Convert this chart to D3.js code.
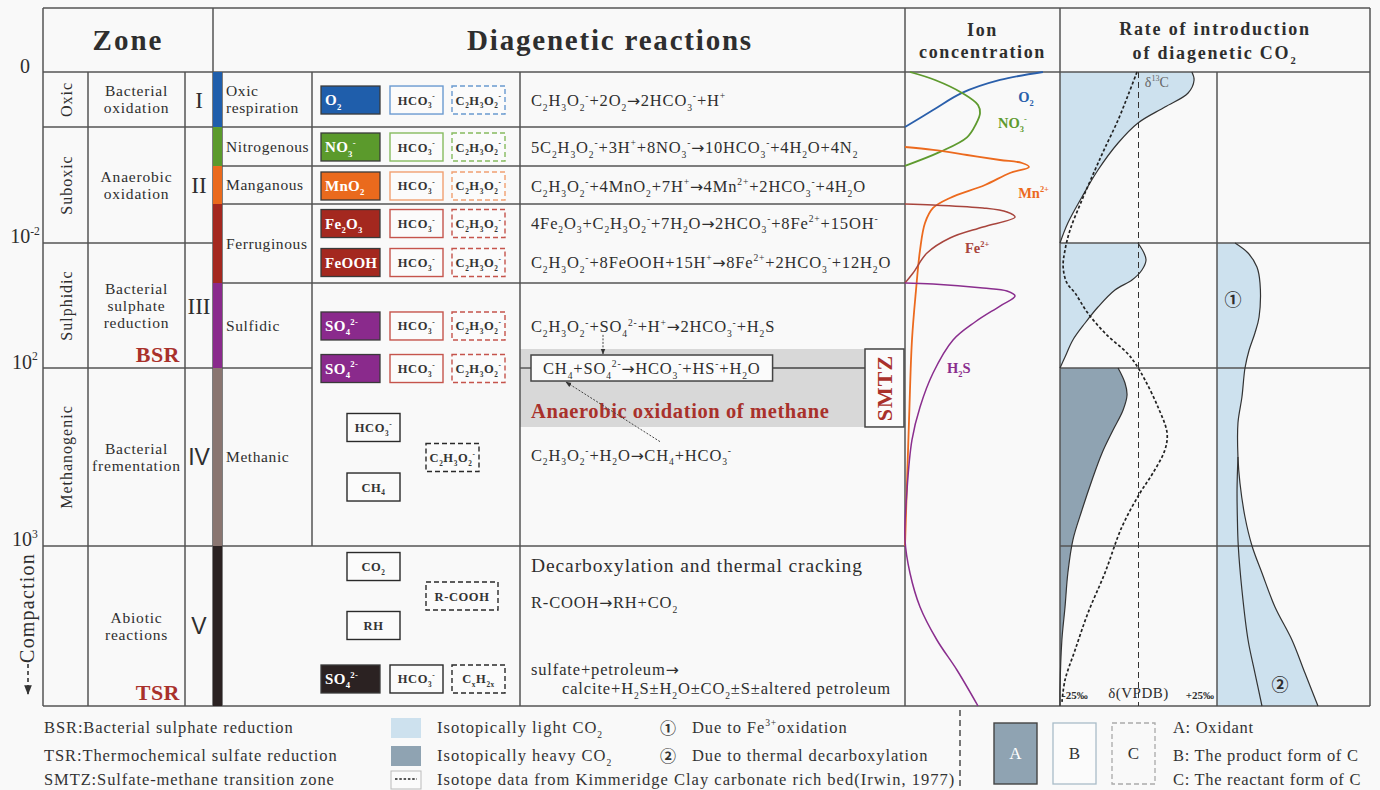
<!DOCTYPE html>
<html>
<head>
<meta charset="utf-8">
<script src="https://cdn.jsdelivr.net/npm/d3@7"></script>
<style>
  html, body { margin: 0; padding: 0; background: #f9f9f9; }
  svg { display: block; font-family: "Liberation Serif", "Times New Roman", serif; }
</style>
</head>
<body>
<svg id="chart" width="1380" height="790"></svg>
<script>
// ---------------------------------------------------------------
// Depth axis (relative burial depth, 0 = sediment surface, 100 = base)
// ---------------------------------------------------------------
const depthTicks = [0, 26.97, 46.69, 74.76];
const depthLabels = ["0", "10^{-2}", "10^2", "10^3"];

// Zones, processes and stages share the same depth boundaries
const zoneBounds = [0, 8.68, 26.97, 46.69, 74.76, 100];
const zoneNames = ["Oxic", "Suboxic", "Sulphidic", "Methanogenic", ""];
const processNames = [["Bacterial", "oxidation"], ["Anaerobic", "oxidation"],
  ["Bacterial", "sulphate", "reduction"], ["Bacterial", "frementation"], ["Abiotic", "reactions"]];
const stageNames = ["I", "II", "III", "IV", "V"];
const processTags = [{ label: "BSR", stage: 2 }, { label: "TSR", stage: 4 }];

// Redox sub-zones of the diagenetic reactions
const redoxBounds = [0, 8.68, 14.83, 20.82, 33.28, 46.69, 74.76, 100];
const redoxNames = [["Oxic", "respiration"], ["Nitrogenous"], ["Manganous"], ["Ferruginous"], ["Sulfidic"], ["Methanic"], []];

// Oxidant (A), product (B) and reactant (C) species per reaction
const species = [
  { label: "O_2", kind: "A", slot: "a", depth: 4.42, zone: 0 },
  { label: "HCO_3^-", kind: "B", slot: "b", depth: 4.42, zone: 0 },
  { label: "C_2H_3O_2^-", kind: "C", slot: "c", depth: 4.42, zone: 0 },
  { label: "NO_3^-", kind: "A", slot: "a", depth: 11.83, zone: 1 },
  { label: "HCO_3^-", kind: "B", slot: "b", depth: 11.83, zone: 1 },
  { label: "C_2H_3O_2^-", kind: "C", slot: "c", depth: 11.83, zone: 1 },
  { label: "MnO_2", kind: "A", slot: "a", depth: 17.98, zone: 2 },
  { label: "HCO_3^-", kind: "B", slot: "b", depth: 17.98, zone: 2 },
  { label: "C_2H_3O_2^-", kind: "C", slot: "c", depth: 17.98, zone: 2 },
  { label: "Fe_2O_3", kind: "A", slot: "a", depth: 23.9, zone: 3 },
  { label: "HCO_3^-", kind: "B", slot: "b", depth: 23.9, zone: 3 },
  { label: "C_2H_3O_2^-", kind: "C", slot: "c", depth: 23.9, zone: 3 },
  { label: "FeOOH", kind: "A", slot: "a", depth: 30.05, zone: 3 },
  { label: "HCO_3^-", kind: "B", slot: "b", depth: 30.05, zone: 3 },
  { label: "C_2H_3O_2^-", kind: "C", slot: "c", depth: 30.05, zone: 3 },
  { label: "SO_4^{2-}", kind: "A", slot: "a", depth: 40.06, zone: 4 },
  { label: "HCO_3^-", kind: "B", slot: "b", depth: 40.06, zone: 4 },
  { label: "C_2H_3O_2^-", kind: "C", slot: "c", depth: 40.06, zone: 4 },
  { label: "SO_4^{2-}", kind: "A", slot: "a", depth: 46.77, zone: 4 },
  { label: "HCO_3^-", kind: "B", slot: "b", depth: 46.77, zone: 4 },
  { label: "C_2H_3O_2^-", kind: "C", slot: "c", depth: 46.77, zone: 4 },
  { label: "HCO_3^-", kind: "B", slot: "m1", depth: 56.07, zone: 5 },
  { label: "C_2H_3O_2^-", kind: "C", slot: "m2", depth: 60.8, zone: 5 },
  { label: "CH_4", kind: "B", slot: "m1", depth: 65.46, zone: 5 },
  { label: "CO_2", kind: "B", slot: "m1", depth: 78.0, zone: 6 },
  { label: "R-COOH", kind: "C", slot: "m2", depth: 82.65, zone: 6 },
  { label: "RH", kind: "B", slot: "m1", depth: 87.3, zone: 6 },
  { label: "SO_4^{2-}", kind: "A", slot: "a", depth: 95.74, zone: 6 },
  { label: "HCO_3^-", kind: "B", slot: "b", depth: 95.74, zone: 6 },
  { label: "C_xH_{2x}", kind: "C", slot: "c", depth: 95.74, zone: 6 }
];

// Reaction equations
const equations = [
  { text: "C_2H_3O_2^-+2O_2→2HCO_3^-+H^+", depth: 4.42 },
  { text: "5C_2H_3O_2^-+3H^++8NO_3^-→10HCO_3^-+4H_2O+4N_2", depth: 11.83 },
  { text: "C_2H_3O_2^-+4MnO_2+7H^+→4Mn^{2+}+2HCO_3^-+4H_2O", depth: 17.98 },
  { text: "4Fe_2O_3+C_2H_3O_2^-+7H_2O→2HCO_3^-+8Fe^{2+}+15OH^-", depth: 23.8 },
  { text: "C_2H_3O_2^-+8FeOOH+15H^+→8Fe^{2+}+2HCO_3^-+12H_2O", depth: 29.97 },
  { text: "C_2H_3O_2^-+SO_4^{2-}+H^+→2HCO_3^-+H_2S", depth: 40.2 },
  { text: "C_2H_3O_2^-+H_2O→CH_4+HCO_3^-", depth: 60.4 },
  { text: "R-COOH→RH+CO_2", depth: 83.6 },
  { text: "sulfate+petroleum→", depth: 94.3 },
  { text: "calcite+H_2S±H_2O±CO_2±S±altered petroleum", depth: 97.2, cont: true }
];
const smtzReaction = { text: "CH_4+SO_4^{2-}→HCO_3^-+HS^-+H_2O", depth: 46.69 };
const smtzBand = [43.69, 55.99];
const aomLabel = { text: "Anaerobic oxidation of methane", depth: 53.4 };
const thermalTitle = { text: "Decarboxylation and thermal cracking", depth: 77.7 };

// Ion concentration profiles: [relative concentration, depth]
const o2Profile = [[0, 8.68], [18.1, 6.0], [36.8, 3.3], [61.3, 1.26], [89, 0]];
const no3Profile = [[3.2, 0], [19.4, 1.26], [36.8, 3.3], [47.1, 5.2], [48.4, 6.5], [45.8, 8.2],
  [40.0, 10.3], [22.6, 12.6], [0, 14.8]];
const mnProfile = [[0, 11.83], [18.1, 12.3], [40, 13.09], [61.3, 13.88], [75.5, 14.35], [80, 14.98],
  [67.7, 15.93], [51.6, 17.82], [29, 19.87], [18.1, 21.45], [12.9, 23.82], [9.7, 28.08],
  [7.1, 34.4], [4.5, 42.27], [2.6, 54.9], [0, 74.76]];
const feProfile = [[0, 20.82], [18.1, 20.98], [50.3, 21.45], [65.8, 22.08], [71, 22.87], [50.3, 24.45],
  [29, 26.18], [14.2, 28.55], [5.2, 31.7], [0, 33.28]];
const h2sProfile = [[0, 33.28], [18.1, 33.44], [50.3, 34.07], [65.8, 34.54], [71, 35.33], [61.3, 36.91],
  [45.2, 39.43], [31, 42.27], [18.1, 47.48], [9.7, 52.84], [4.5, 58.04], [1.3, 65.93], [0, 73.82],
  [3.2, 79.02], [9.7, 84.38], [20.6, 89.59], [33.5, 94.32], [47.1, 100]];
const ionLabels = [
  { text: "O_2", conc: 73, depth: 3.94 },
  { text: "NO_3^-", conc: 60, depth: 8.04 },
  { text: "Mn^{2+}", conc: 73, depth: 19.1 },
  { text: "Fe^{2+}", conc: 38.7, depth: 27.8 },
  { text: "H_2S", conc: 27.1, depth: 46.7 }
];

// δ13C of diagenetic CO2 (‰ VPDB): [δ13C, depth]
const lightUpper = [[17.0, 0], [17.7, 1.26], [15.8, 3.31], [8.4, 5.52], [-0.16, 8.04], [-6.5, 11.2],
  [-12.9, 15.46], [-18.0, 19.72], [-22.5, 23.82], [-25, 26.97]];
const lightMiddle = [[-0.16, 26.97], [1.75, 28.55], [2.4, 29.65], [1.1, 31.23], [-2.07, 32.81],
  [-7.5, 34.38], [-12.9, 37.07], [-17.0, 39.59], [-20.9, 42.27], [-23.4, 44.95], [-25, 46.69]];
const heavyLower = [[-6.5, 46.69], [-4.3, 49.05], [-3.65, 50.95], [-4.9, 53.31], [-8.1, 56.47],
  [-11.6, 60.09], [-14.8, 64.35], [-18.0, 69.09], [-20.9, 73.82], [-22.5, 79.02], [-23.4, 84.38],
  [-24.4, 89.59], [-25, 97.4], [-25, 100]];
const kimmeridge = [[-0.48, 0], [-3.3, 3.63], [-6.5, 7.57], [-10.7, 11.99], [-13.85, 15.46],
  [-18.0, 20.19], [-21.8, 24.92], [-23.4, 28.08], [-24.0, 30.76], [-22.8, 33.28], [-20.2, 34.86],
  [-16.4, 37.85], [-10.7, 41.17], [-3.65, 44.32], [-1.1, 45.9], [2.07, 48.58], [6.2, 52.84],
  [9.1, 56.94], [8.4, 59.62], [4.6, 63.25], [0.48, 66.4], [-5.3, 71.77], [-10.7, 79.02],
  [-16.1, 85.33], [-20.2, 91.17], [-23.4, 95.9], [-24.4, 99.5]];

// Rate of CO2 introduction from Fe3+ oxidation / thermal decarboxylation: [rate, depth]
const rateOuter = [[11.8, 26.97], [20.3, 28.55], [26.1, 30.76], [28.1, 33.28], [27.5, 38.64],
  [24.8, 41.17], [21, 43.85], [18.3, 46.69], [16.3, 51.26], [13.7, 55.36], [13.7, 60.73],
  [15.0, 64.83], [18.3, 70.19], [22.9, 74.76], [29.4, 79.02], [37.9, 84.38], [49.0, 89.59],
  [57.5, 94.8], [66, 100]];
const rateInner = [[13.7, 60.73], [13.1, 65.9], [13.3, 70.2], [13.9, 74.76], [16.3, 81.7],
  [20.3, 89.59], [24.8, 94.8], [29.4, 100]];
const rateMarks = [{ text: "①", rate: 10.5, depth: 36 }, { text: "②", rate: 41.2, depth: 96.7 }];

// Legend entries
const abbreviations = ["BSR:Bacterial sulphate reduction", "TSR:Thermochemical sulfate reduction",
  "SMTZ:Sulfate-methane transition zone"];
const fillLegend = [
  { label: "Isotopically light CO_2", type: "light" },
  { label: "Isotopically heavy CO_2", type: "heavy" },
  { label: "Isotope data from Kimmeridge Clay carbonate rich bed(Irwin, 1977)", type: "dash" }
];
const noteLegend = [{ mark: "①", label: "Due to Fe^{3+}oxidation" }, { mark: "②", label: "Due to thermal decarboxylation" }];
const boxLegend = [{ key: "A", label: "A: Oxidant" }, { key: "B", label: "B: The product form of  C" },
  { key: "C", label: "C: The reactant form of  C" }];

// ---------------------------------------------------------------
// Layout & styles
// ---------------------------------------------------------------
const X = { left: 43, zone: 88, proc: 185, roman: 213, bar: 222, name: 312, box: 520,
  ion: 905, rate: 1060, rateMid: 1217, right: 1370 };
const Y = { top: 8, head: 72, bottom: 706 };
const ink = "#2e2e2e";
const gridC = "#555";
const tagRed = "#a9312b";
const redoxColors = ["#1f5eab", "#5b9a2c", "#ea6a1d", "#a4281f", "#8a2a8c", "#8a7671", "#2b2222"];
const speciesStroke = ["#6a9ad0", "#86bb5f", "#f1a071", "#c5544c", "#c5544c", "#2a2a2a", "#2a2a2a"];
const ionColors = ["#2a5fab", "#5e9a2e", "#ec6a1e", "#a8453d", "#8a2e8e"];
const lightFill = "#cde1ee";
const heavyFill = "#8fa3b2";
const slotLeft = { a: 321, b: 390, c: 452, m1: 347, m2: 426 };

const y = d3.scaleLinear().domain([0, 100]).range([Y.head, Y.bottom]);
const xIon = d3.scaleLinear().domain([0, 100]).range([X.ion, X.rate]);
const xIso = d3.scaleLinear().domain([-25, 25]).range([X.rate, X.rateMid]);
const xRate = d3.scaleLinear().domain([0, 100]).range([X.rateMid, X.right]);

const svg = d3.select("#chart");
svg.append("rect").attr("width", 1380).attr("height", 790).attr("fill", "#f9f9f9");

const defs = svg.append("defs");
defs.append("marker").attr("id", "arrow").attr("viewBox", "0 0 10 10").attr("refX", 9).attr("refY", 5)
  .attr("markerWidth", 6).attr("markerHeight", 6).attr("orient", "auto-start-reverse")
  .append("path").attr("d", "M0,1 L10,5 L0,9 z").attr("fill", "#333");

// Rich text: "_x" / "_{..}" subscript, "^x" / "^{..}" superscript
function parseRich(str) {
  const parts = [];
  let i = 0;
  while (i < str.length) {
    const c = str[i];
    if (c === "_" || c === "^") {
      i++;
      let t;
      if (str[i] === "{") { const j = str.indexOf("}", i); t = str.slice(i + 1, j); i = j + 1; }
      else { t = str[i]; i++; }
      parts.push({ t, m: c === "_" ? 1 : 2 });
    } else {
      let j = i;
      while (j < str.length && str[j] !== "_" && str[j] !== "^") j++;
      parts.push({ t: str.slice(i, j), m: 0 });
      i = j;
    }
  }
  return parts;
}
function rich(textSel, str, fs) {
  textSel.text(null);
  let cur = 0;
  parseRich(str).forEach(p => {
    const off = p.m === 1 ? fs * 0.3 : p.m === 2 ? -fs * 0.42 : 0;
    if (p.m === 0 && p.t.includes("→")) {
      // reaction arrows are drawn with a font whose arrow is full width
      p.t.split(/(→)/).filter(s => s.length).forEach((seg, k) => {
        const ts = textSel.append("tspan").text(seg);
        if (k === 0) ts.attr("dy", off - cur);
        if (seg === "→") ts.attr("font-family", "'DejaVu Sans', sans-serif").attr("font-size", fs * 0.95).attr("letter-spacing", 0.5);
      });
    } else {
      const ts = textSel.append("tspan").attr("dy", off - cur).text(p.t);
      if (p.m) ts.attr("font-size", fs * 0.58);
    }
    cur = off;
  });
  return textSel;
}
function mainLength(str) {
  return parseRich(str).filter(p => p.m === 0).reduce((s, p) => s + p.t.length, 0);
}
// Multi-line text centred on (cx, cy)
function multiline(g, arr, cx, cy, fs, lh, attrs) {
  const t = g.append("text").attr("text-anchor", attrs.anchor || "middle")
    .attr("font-size", fs).attr("fill", attrs.fill || ink)
    .attr("letter-spacing", attrs.ls || 0).attr("font-weight", attrs.weight || "normal");
  if (attrs.family) t.attr("font-family", attrs.family);
  arr.forEach((line, i) => {
    t.append("tspan").attr("x", cx).attr("y", cy - (arr.length - 1) * lh / 2 + i * lh + fs * 0.34).text(line);
  });
  return t;
}

const gFill = svg.append("g");
const gGrid = svg.append("g").attr("stroke", gridC).attr("stroke-width", 1.5).attr("fill", "none");
const gText = svg.append("g");
const gMarks = svg.append("g");

// ---------------- SMTZ band ----------------
gFill.append("rect").attr("x", X.box).attr("width", X.ion - X.box)
  .attr("y", y(smtzBand[0])).attr("height", y(smtzBand[1]) - y(smtzBand[0])).attr("fill", "#d8d8d8");

// ---------------- δ13C and rate fills ----------------
const isoArea = d3.area().curve(d3.curveCatmullRom.alpha(0.5))
  .y(d => y(d[1])).x0(xIso(-25)).x1(d => xIso(d[0]));
const isoLine = d3.line().curve(d3.curveCatmullRom.alpha(0.5)).x(d => xIso(d[0])).y(d => y(d[1]));
[[lightUpper, lightFill], [lightMiddle, lightFill], [heavyLower, heavyFill]].forEach(([pts, col]) => {
  gFill.append("path").attr("d", isoArea(pts)).attr("fill", col);
  gMarks.append("path").attr("d", isoLine(pts)).attr("fill", "none").attr("stroke", "#333").attr("stroke-width", 1.2);
});
const rateArea = d3.area().curve(d3.curveCatmullRom.alpha(0.5))
  .y(d => y(d[1])).x0(xRate(0)).x1(d => xRate(d[0]));
const rateLine = d3.line().curve(d3.curveCatmullRom.alpha(0.5)).x(d => xRate(d[0])).y(d => y(d[1]));
gFill.append("path").attr("d", rateArea(rateOuter)).attr("fill", lightFill);
gMarks.append("path").attr("d", rateLine(rateOuter)).attr("fill", "none").attr("stroke", "#333").attr("stroke-width", 1.2);
gMarks.append("path").attr("d", rateLine(rateInner)).attr("fill", "none").attr("stroke", "#333").attr("stroke-width", 1.2);

// δ = 0 reference line and Kimmeridge isotope curve
gMarks.append("line").attr("x1", xIso(0)).attr("x2", xIso(0)).attr("y1", y(0)).attr("y2", y(100))
  .attr("stroke", "#333").attr("stroke-width", 1).attr("stroke-dasharray", "6,4");
gMarks.append("path").attr("d", isoLine(kimmeridge)).attr("fill", "none").attr("stroke", "#222")
  .attr("stroke-width", 1.7).attr("stroke-dasharray", "3,2.2");

// ---------------- colour bar ----------------
svg.append("g").selectAll("rect").data(redoxColors).join("rect")
  .attr("x", X.roman).attr("width", X.bar - X.roman)
  .attr("y", (d, i) => y(redoxBounds[i]))
  .attr("height", (d, i) => y(redoxBounds[i + 1]) - y(redoxBounds[i]))
  .attr("fill", d => d);

// ---------------- grid ----------------
function hLine(py, x0, x1) { gGrid.append("line").attr("x1", x0).attr("x2", x1).attr("y1", py).attr("y2", py); }
function vLine(px, y0, y1) { gGrid.append("line").attr("x1", px).attr("x2", px).attr("y1", y0).attr("y2", y1); }
hLine(Y.top, X.left, X.right);
hLine(Y.head, X.left, X.right);
hLine(Y.bottom, X.left, X.right);
zoneBounds.slice(1, -1).forEach(d => hLine(y(d), X.left, X.roman));
redoxBounds.slice(1, -1).forEach(d => hLine(y(d), X.bar, X.name));
redoxBounds.slice(1, -1).filter(d => d !== 46.69).forEach(d => hLine(y(d), X.name, X.ion));
zoneBounds.slice(2, -1).forEach(d => hLine(y(d), X.rate, X.right));
[X.left, X.roman, X.ion, X.rate, X.right].forEach(px => vLine(px, Y.top, Y.bottom));
[X.zone, X.proc, X.bar, X.box, X.rateMid].forEach(px => vLine(px, Y.head, Y.bottom));
vLine(X.name, Y.head, y(74.76));

// ---------------- headers ----------------
gText.append("text").attr("x", (X.left + X.roman) / 2).attr("y", 50).attr("text-anchor", "middle")
  .attr("font-size", 29).attr("font-weight", "bold").attr("letter-spacing", 2).attr("fill", ink).text("Zone");
gText.append("text").attr("x", 610).attr("y", 50).attr("text-anchor", "middle")
  .attr("font-size", 29).attr("font-weight", "bold").attr("letter-spacing", 1.8).attr("fill", ink).text("Diagenetic reactions");
multiline(gText, ["Ion", "concentration"], (X.ion + X.rate) / 2, 41, 18, 22, { weight: "bold", ls: 1.6 });
const rh = gText.append("text").attr("text-anchor", "middle").attr("font-size", 18).attr("font-weight", "bold")
  .attr("letter-spacing", 1.8).attr("fill", ink);
rh.append("tspan").attr("x", (X.rate + X.right) / 2).attr("y", 35).text("Rate of introduction");
const rh2 = gText.append("text").attr("text-anchor", "middle").attr("font-size", 18).attr("font-weight", "bold")
  .attr("letter-spacing", 1.8).attr("fill", ink).attr("x", (X.rate + X.right) / 2).attr("y", 59);
rich(rh2, "of diagenetic CO_2", 18);

// ---------------- depth axis ----------------
const axis = d3.axisLeft(y).tickValues(depthTicks).tickSize(0).tickPadding(0).tickFormat((d, i) => depthLabels[i]);
const gAxis = svg.append("g").attr("transform", "translate(25,0)").call(axis);
gAxis.select(".domain").remove();
gAxis.attr("font-family", null).attr("font-size", null).attr("text-anchor", "middle");
gAxis.selectAll(".tick text").each(function (d, i) {
  const t = d3.select(this).attr("fill", ink).attr("font-size", 20).attr("dy", "0.3em");
  rich(t, depthLabels[i], 20);
});

// Compaction arrow
gText.append("text").attr("transform", "translate(34,608) rotate(-90)").attr("text-anchor", "middle")
  .attr("font-size", 20).attr("letter-spacing", 1.2).attr("fill", ink).text("Compaction");
gMarks.append("line").attr("x1", 28).attr("x2", 28).attr("y1", 664).attr("y2", 694)
  .attr("stroke", "#333").attr("stroke-width", 1.6).attr("stroke-dasharray", "4,3").attr("marker-end", "url(#arrow)");

// ---------------- zone columns ----------------
zoneNames.forEach((name, i) => {
  const cy = (y(zoneBounds[i]) + y(zoneBounds[i + 1])) / 2;
  if (name) {
    gText.append("text").attr("transform", `translate(${(X.left + X.zone) / 2 + 1},${cy}) rotate(-90)`)
      .attr("text-anchor", "middle").attr("dy", "0.34em").attr("font-size", 16).attr("letter-spacing", 1)
      .attr("fill", ink).text(name);
  }
  multiline(gText, processNames[i], (X.zone + X.proc) / 2, cy, 15.5, 17, { ls: 0.8 });
  gText.append("text").attr("x", (X.proc + X.roman) / 2).attr("y", cy + 8).attr("text-anchor", "middle")
    .attr("font-size", 23).attr("fill", ink)
    .attr("font-family", i >= 3 ? "'Liberation Sans', Arial, sans-serif" : null)
    .text(stageNames[i]);
});
processTags.forEach(tag => {
  gText.append("text").attr("x", X.proc - 5).attr("y", y(zoneBounds[tag.stage + 1]) - 6)
    .attr("text-anchor", "end").attr("font-size", 22).attr("font-weight", "bold")
    .attr("fill", tagRed).attr("letter-spacing", 0.5).text(tag.label);
});

// ---------------- redox zone names ----------------
redoxNames.forEach((arr, i) => {
  const cy = (y(redoxBounds[i]) + y(redoxBounds[i + 1])) / 2;
  multiline(gText, arr, X.bar + 4, cy, 15.5, 17, { anchor: "start", ls: 0.6 });
});

// ---------------- species boxes ----------------
species.forEach(s => {
  const h = 28;
  const top = y(s.depth) - h / 2;
  const left = slotLeft[s.slot];
  const w = s.kind === "A" ? 59 : Math.max(53, mainLength(s.label) * 12);
  const g = gMarks.append("g");
  if (s.kind === "A") {
    g.append("rect").attr("x", left).attr("y", top).attr("width", w).attr("height", h)
      .attr("fill", redoxColors[s.zone]).attr("stroke", "#3a3a3a").attr("stroke-width", 1.3);
    const t = g.append("text").attr("x", left + 4).attr("y", top + h / 2 + 5).attr("font-size", 15)
      .attr("font-weight", "bold").attr("fill", "#fff").attr("letter-spacing", 0.3);
    rich(t, s.label, 15);
  } else {
    g.append("rect").attr("x", left).attr("y", top).attr("width", w).attr("height", h)
      .attr("fill", "#fbfbfb").attr("stroke", speciesStroke[s.zone]).attr("stroke-width", 1.4)
      .attr("stroke-dasharray", s.kind === "C" ? "5,3" : null);
    const t = g.append("text").attr("x", left + w / 2).attr("y", top + h / 2 + 4.5).attr("text-anchor", "middle")
      .attr("font-size", 12.5).attr("font-weight", "bold").attr("fill", "#333").attr("letter-spacing", 0.6);
    rich(t, s.label, 12.5);
  }
});

// ---------------- equations ----------------
const eqX = X.box + 11;
const eqFs = 16.5;
const eqLs = 0.85;
equations.forEach(e => {
  const t = gText.append("text").attr("x", e.cont ? eqX + 31 : eqX).attr("y", y(e.depth) + eqFs * 0.34)
    .attr("font-size", eqFs).attr("fill", ink).attr("letter-spacing", eqLs);
  rich(t, e.text, eqFs);
});
gText.append("text").attr("x", eqX).attr("y", y(thermalTitle.depth) + 7).attr("font-size", 19.5)
  .attr("letter-spacing", 0.9).attr("fill", ink).text(thermalTitle.text);

// SMTZ reaction box
const smY = y(smtzReaction.depth);
const smText = gText.append("text").attr("x", eqX + 12).attr("y", smY + eqFs * 0.34)
  .attr("font-size", eqFs).attr("fill", ink).attr("letter-spacing", eqLs);
rich(smText, smtzReaction.text, eqFs);
const smW = smText.node().getComputedTextLength() + 24;
const tagW = 39;
gFill.append("rect").attr("x", eqX).attr("y", smY - 13).attr("width", smW).attr("height", 26)
  .attr("fill", "#fbfbfb").attr("stroke", "#444").attr("stroke-width", 1.5);
gFill.append("line").attr("x1", X.box).attr("x2", eqX).attr("y1", smY).attr("y2", smY).attr("stroke", "#444").attr("stroke-width", 1.3);
gFill.append("line").attr("x1", eqX + smW).attr("x2", X.ion - tagW - 1).attr("y1", smY).attr("y2", smY).attr("stroke", "#444").attr("stroke-width", 1.3);
gFill.append("rect").attr("x", X.ion - tagW - 1).attr("y", y(smtzBand[0])).attr("width", tagW)
  .attr("height", y(smtzBand[1]) - y(smtzBand[0])).attr("fill", "#fbfbfb").attr("stroke", "#444").attr("stroke-width", 1.5);
gText.append("text").attr("transform", `translate(${X.ion - tagW / 2 - 1},${(y(smtzBand[0]) + y(smtzBand[1])) / 2}) rotate(-90)`)
  .attr("text-anchor", "middle").attr("dy", "0.35em").attr("font-size", 22).attr("font-weight", "bold")
  .attr("letter-spacing", 1).attr("fill", tagRed).text("SMTZ");
gText.append("text").attr("x", eqX).attr("y", y(aomLabel.depth) + 7).attr("font-size", 20.5)
  .attr("font-weight", "bold").attr("letter-spacing", 0.6).attr("fill", tagRed).text(aomLabel.text);

// dotted pathways into AOM
gMarks.append("line").attr("x1", eqX + 72).attr("x2", eqX + 72).attr("y1", y(40.2) + 8).attr("y2", smY - 14)
  .attr("stroke", "#444").attr("stroke-width", 1).attr("stroke-dasharray", "2,1.5").attr("marker-end", "url(#arrow)");
gMarks.append("line").attr("x1", eqX + 129).attr("y1", y(58.3)).attr("x2", eqX + 35).attr("y2", smY + 14)
  .attr("stroke", "#444").attr("stroke-width", 1).attr("stroke-dasharray", "2,1.5").attr("marker-end", "url(#arrow)");

// ---------------- ion concentration ----------------
const ionLine = d3.line().curve(d3.curveCatmullRom.alpha(0.5)).x(d => xIon(d[0])).y(d => y(d[1]));
[o2Profile, no3Profile, mnProfile, feProfile, h2sProfile].forEach((p, i) => {
  gMarks.append("path").attr("d", ionLine(p)).attr("fill", "none").attr("stroke", ionColors[i])
    .attr("stroke-width", i >= 3 ? 1.5 : 1.8);
});
ionLabels.forEach((l, i) => {
  const t = gText.append("text").attr("x", xIon(l.conc)).attr("y", y(l.depth) + 5).attr("font-size", 14.5)
    .attr("font-weight", "bold").attr("fill", ionColors[i]);
  rich(t, l.text, 14.5);
});

// ---------------- rate column labels ----------------
const dl = gText.append("text").attr("x", xIso(2)).attr("y", y(1.6) + 5).attr("font-size", 14).attr("fill", "#666");
rich(dl, "δ^{13}C", 14);
gText.append("text").attr("x", xIso(-25) + 2).attr("y", Y.bottom - 7).attr("font-size", 11).attr("font-weight", "bold")
  .attr("fill", ink).text("-25‰");
gText.append("text").attr("x", xIso(0)).attr("y", Y.bottom - 8).attr("text-anchor", "middle").attr("font-size", 15)
  .attr("fill", ink).attr("letter-spacing", 0.5).text("δ(VPDB)");
gText.append("text").attr("x", xIso(25) - 3).attr("y", Y.bottom - 7).attr("text-anchor", "end").attr("font-size", 11)
  .attr("font-weight", "bold").attr("fill", ink).text("+25‰");
rateMarks.forEach(m => {
  gText.append("text").attr("x", xRate(m.rate)).attr("y", y(m.depth)).attr("dy", "0.36em").attr("text-anchor", "middle")
    .attr("font-size", 17).attr("font-weight", "bold").attr("font-family", "'Noto Sans CJK SC', sans-serif")
    .attr("fill", ink).text(m.text);
});

// ---------------- legend ----------------
const legRows = [728, 756, 780];
const gLeg = svg.append("g").attr("font-size", 16.5).attr("fill", "#333");
abbreviations.forEach((a, i) => {
  gLeg.append("text").attr("x", 44).attr("y", legRows[i] + 5).attr("letter-spacing", 0.9).text(a);
});
fillLegend.forEach((f, i) => {
  const sy = legRows[i];
  if (f.type === "dash") {
    gLeg.append("rect").attr("x", 391).attr("y", sy - 9).attr("width", 30).attr("height", 18)
      .attr("fill", "#fbfbfb").attr("stroke", "#bbb").attr("stroke-width", 1);
    gLeg.append("line").attr("x1", 395).attr("x2", 417).attr("y1", sy - 1).attr("y2", sy - 1)
      .attr("stroke", "#222").attr("stroke-width", 1.5).attr("stroke-dasharray", "2.5,1.8");
  } else {
    gLeg.append("rect").attr("x", 391).attr("y", sy - 10).attr("width", 30).attr("height", 20)
      .attr("fill", f.type === "light" ? lightFill : heavyFill);
  }
  const t = gLeg.append("text").attr("x", 437).attr("y", sy + 5).attr("letter-spacing", 1);
  rich(t, f.label, 16.5);
});
noteLegend.forEach((n, i) => {
  gLeg.append("text").attr("x", 668).attr("y", legRows[i] + 6).attr("text-anchor", "middle")
    .attr("font-family", "'Noto Sans CJK SC', sans-serif").attr("font-weight", "bold").attr("font-size", 16).text(n.mark);
  const t = gLeg.append("text").attr("x", 692).attr("y", legRows[i] + 5).attr("letter-spacing", 0.9);
  rich(t, n.label, 16.5);
});
gLeg.append("line").attr("x1", 960).attr("x2", 960).attr("y1", 710).attr("y2", 790)
  .attr("stroke", "#333").attr("stroke-width", 1.3).attr("stroke-dasharray", "6,4");
const keyLeft = { A: 994, B: 1053, C: 1112 };
boxLegend.forEach((b, i) => {
  const r = gLeg.append("rect").attr("x", keyLeft[b.key]).attr("y", 723).attr("width", 43).attr("height", 61);
  if (b.key === "A") r.attr("fill", heavyFill).attr("stroke", "#444").attr("stroke-width", 1.4);
  if (b.key === "B") r.attr("fill", "#fbfbfb").attr("stroke", "#a9bcc8").attr("stroke-width", 1.3);
  if (b.key === "C") r.attr("fill", "none").attr("stroke", "#aaa").attr("stroke-width", 1.3).attr("stroke-dasharray", "5,3");
  gLeg.append("text").attr("x", keyLeft[b.key] + 21.5).attr("y", 759).attr("text-anchor", "middle")
    .attr("font-size", 17).attr("fill", b.key === "A" ? "#fff" : "#333").text(b.key);
  gLeg.append("text").attr("x", 1173).attr("y", legRows[i] + 5).attr("letter-spacing", 0.7).text(b.label);
});
</script>
</body>
</html>
